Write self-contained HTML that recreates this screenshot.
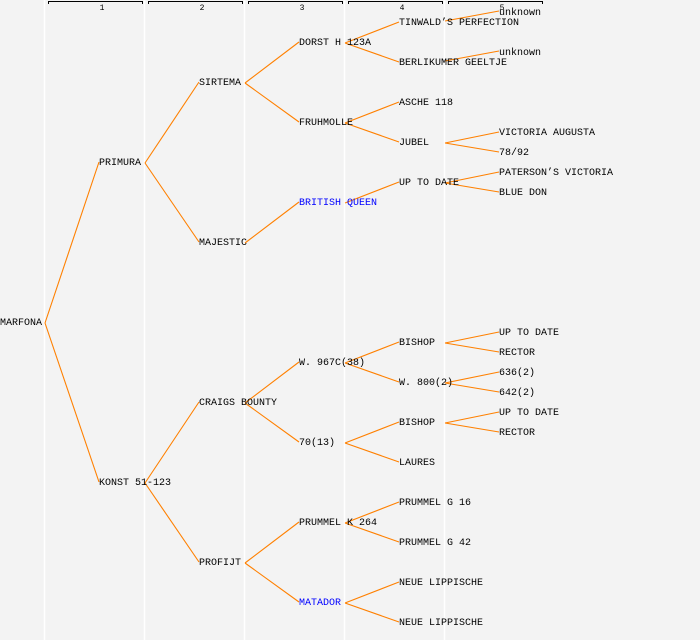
<!DOCTYPE html>
<html><head><meta charset="utf-8"><style>
html,body{margin:0;padding:0;background:#f3f3f3;}
svg{display:block;}
text{font-family:"Liberation Mono","DejaVu Sans Mono",monospace;font-size:10px;fill:#000;}
.n{font-size:8px;}
line.c{stroke:#ff8000;stroke-width:1.1;}
</style></head><body>
<svg width="700" height="640" viewBox="0 0 700 640" xmlns="http://www.w3.org/2000/svg">
<rect width="700" height="640" fill="#f3f3f3"/>
<g stroke="#ffffff" stroke-width="1.5">
<line x1="44.5" y1="0" x2="44.5" y2="640"/><line x1="144.5" y1="0" x2="144.5" y2="640"/>
<line x1="244.5" y1="0" x2="244.5" y2="640"/><line x1="344.5" y1="0" x2="344.5" y2="640"/>
<line x1="444.5" y1="0" x2="444.5" y2="640"/>
</g>
<g stroke="#000" stroke-width="1" fill="none">
<path d="M48.5,4V1.5H142.5V4"/><path d="M148.5,4V1.5H242.5V4"/><path d="M248.5,4V1.5H342.5V4"/>
<path d="M348.5,4V1.5H442.5V4"/><path d="M448.5,4V1.5H542.5V4"/>
</g>
<text class="n" x="102" y="10" text-anchor="middle">1</text>
<text class="n" x="202" y="10" text-anchor="middle">2</text>
<text class="n" x="302" y="10" text-anchor="middle">3</text>
<text class="n" x="402" y="10" text-anchor="middle">4</text>
<text class="n" x="502" y="10" text-anchor="middle">5</text>
<g>
<line class="c" x1="45" y1="323" x2="99" y2="162"/><line class="c" x1="45" y1="323" x2="99" y2="482"/>
<line class="c" x1="145" y1="163" x2="199" y2="82"/><line class="c" x1="145" y1="163" x2="199" y2="242"/>
<line class="c" x1="145" y1="483" x2="199" y2="402"/><line class="c" x1="145" y1="483" x2="199" y2="562"/>
<line class="c" x1="245" y1="83" x2="299" y2="42"/><line class="c" x1="245" y1="83" x2="299" y2="122"/>
<line class="c" x1="245" y1="243" x2="299" y2="202"/>
<line class="c" x1="245" y1="403" x2="299" y2="362"/><line class="c" x1="245" y1="403" x2="299" y2="442"/>
<line class="c" x1="245" y1="563" x2="299" y2="522"/><line class="c" x1="245" y1="563" x2="299" y2="602"/>
<line class="c" x1="345" y1="43" x2="399" y2="22"/><line class="c" x1="345" y1="43" x2="399" y2="62"/>
<line class="c" x1="345" y1="123" x2="399" y2="102"/><line class="c" x1="345" y1="123" x2="399" y2="142"/>
<line class="c" x1="345" y1="203" x2="399" y2="182"/>
<line class="c" x1="345" y1="363" x2="399" y2="342"/><line class="c" x1="345" y1="363" x2="399" y2="382"/>
<line class="c" x1="345" y1="443" x2="399" y2="422"/><line class="c" x1="345" y1="443" x2="399" y2="462"/>
<line class="c" x1="345" y1="523" x2="399" y2="502"/><line class="c" x1="345" y1="523" x2="399" y2="542"/>
<line class="c" x1="345" y1="603" x2="399" y2="582"/><line class="c" x1="345" y1="603" x2="399" y2="622"/>
<line class="c" x1="445" y1="21" x2="499" y2="11"/><line class="c" x1="445" y1="61" x2="499" y2="51"/>
<line class="c" x1="445" y1="143" x2="499" y2="132"/><line class="c" x1="445" y1="143" x2="499" y2="152"/>
<line class="c" x1="445" y1="183" x2="499" y2="172"/><line class="c" x1="445" y1="183" x2="499" y2="192"/>
<line class="c" x1="445" y1="343" x2="499" y2="332"/><line class="c" x1="445" y1="343" x2="499" y2="352"/>
<line class="c" x1="445" y1="383" x2="499" y2="372"/><line class="c" x1="445" y1="383" x2="499" y2="392"/>
<line class="c" x1="445" y1="423" x2="499" y2="412"/><line class="c" x1="445" y1="423" x2="499" y2="432"/>
</g>
<g>
<text x="0" y="325">MARFONA</text>
<text x="99" y="165">PRIMURA</text><text x="99" y="485">KONST 51-123</text>
<text x="199" y="85">SIRTEMA</text><text x="199" y="245">MAJESTIC</text>
<text x="199" y="405">CRAIGS BOUNTY</text><text x="199" y="565">PROFIJT</text>
<text x="299" y="45">DORST H 123A</text><text x="299" y="125">FRUHMOLLE</text>
<text x="299" y="205" style="fill:#0000ff">BRITISH QUEEN</text>
<text x="299" y="365">W. 967C(38)</text><text x="299" y="445">70(13)</text>
<text x="299" y="525">PRUMMEL K 264</text><text x="299" y="605" style="fill:#0000ff">MATADOR</text>
<text x="399" y="25">TINWALD’S PERFECTION</text><text x="399" y="65">BERLIKUMER GEELTJE</text>
<text x="399" y="105">ASCHE 118</text><text x="399" y="145">JUBEL</text>
<text x="399" y="185">UP TO DATE</text>
<text x="399" y="345">BISHOP</text><text x="399" y="385">W. 800(2)</text>
<text x="399" y="425">BISHOP</text><text x="399" y="465">LAURES</text>
<text x="399" y="505">PRUMMEL G 16</text><text x="399" y="545">PRUMMEL G 42</text>
<text x="399" y="585">NEUE LIPPISCHE</text><text x="399" y="625">NEUE LIPPISCHE</text>
<text x="499" y="15">unknown</text><text x="499" y="55">unknown</text>
<text x="499" y="135">VICTORIA AUGUSTA</text><text x="499" y="155">78/92</text>
<text x="499" y="175">PATERSON’S VICTORIA</text><text x="499" y="195">BLUE DON</text>
<text x="499" y="335">UP TO DATE</text><text x="499" y="355">RECTOR</text>
<text x="499" y="375">636(2)</text><text x="499" y="395">642(2)</text>
<text x="499" y="415">UP TO DATE</text><text x="499" y="435">RECTOR</text>
</g>
</svg>
</body></html>
